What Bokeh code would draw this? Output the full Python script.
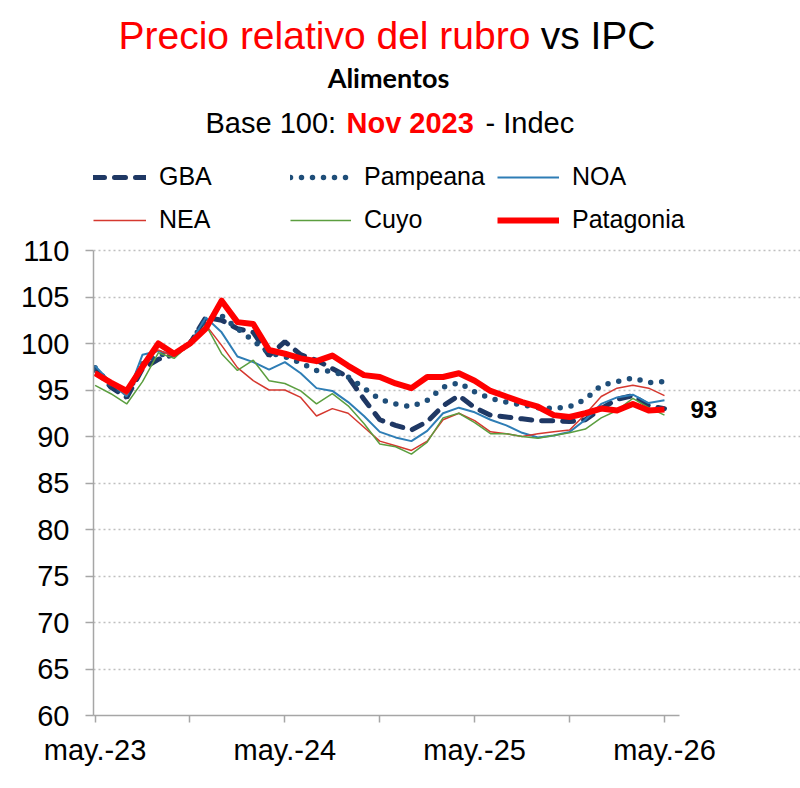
from bokeh.plotting import figure
from bokeh.models import Range1d, FixedTicker, Label, Legend, LegendItem
from bokeh.embed import file_html
from bokeh.resources import INLINE

# Relative price of the food category vs CPI, by region (Nov 2023 = 100), monthly from May 2023
gba = [97.2, 95.3, 94.2, 97.3, 98.3, 98.8, 100.0, 102.8, 102.5, 101.6,
       101.2, 98.7, 100.2, 98.8, 98.2, 97.3, 96.4, 94.0, 91.8, 91.2,
       90.7, 91.6, 93.3, 94.4, 93.1, 92.3, 92.1, 91.9, 91.7, 91.7,
       91.6, 91.8, 93.0, 94.0, 94.4, 93.3, 93.0]
pampeana = [97.4, 95.5, 94.5, 97.8, 98.8, 98.9, 100.0, 102.6, 103.0, 101.6,
            100.3, 99.0, 98.6, 97.9, 97.1, 97.0, 96.4, 95.2, 94.0, 93.5,
            93.2, 93.9, 95.3, 95.8, 94.8, 94.1, 93.7, 93.4, 93.1, 93.0,
            93.2, 94.0, 95.5, 95.9, 96.3, 95.8, 95.9]
noa = [97.6, 95.8, 94.3, 98.8, 99.2, 98.8, 100.0, 102.8, 101.2, 98.6,
       98.0, 97.2, 98.0, 96.8, 95.2, 94.9, 93.7, 92.2, 90.5, 89.9,
       89.5, 90.6, 92.5, 93.1, 92.6, 91.8, 91.2, 90.4, 89.9, 90.1,
       90.5, 91.8, 93.5, 94.2, 94.5, 93.6, 93.9]
nea = [97.0, 95.6, 94.5, 98.0, 99.3, 98.6, 100.0, 102.0, 99.8, 97.4,
       96.0, 95.0, 95.0, 94.2, 92.2, 93.0, 92.5, 91.0, 89.5, 89.0,
       88.5, 89.5, 91.8, 92.5, 91.7, 90.5, 90.3, 90.0, 90.3, 90.5,
       90.7, 92.4, 94.3, 95.2, 95.5, 95.2, 94.4]
cuyo = [95.5, 94.6, 93.5, 95.9, 99.0, 98.4, 100.0, 102.0, 98.9, 97.1,
        98.2, 96.0, 95.7, 94.9, 93.5, 94.6, 93.3, 91.4, 89.2, 88.9,
        88.1, 89.4, 92.0, 92.5, 91.5, 90.3, 90.3, 90.0, 89.8, 90.1,
        90.4, 90.8, 92.0, 92.8, 94.1, 93.1, 92.3]
patagonia = [96.8, 95.8, 94.9, 97.5, 100.0, 98.9, 100.0, 101.6, 104.6, 102.3,
             102.1, 99.3, 98.9, 98.4, 98.1, 98.7, 97.6, 96.6, 96.4, 95.7,
             95.2, 96.4, 96.4, 96.8, 96.0, 94.9, 94.3, 93.7, 93.2, 92.3,
             92.1, 92.5, 93.0, 92.8, 93.5, 92.8, 92.9]

x_tick_labels = ["may.-23", "", "may.-24", "", "may.-25", "", "may.-26"]
y_ticks = [60, 65, 70, 75, 80, 85, 90, 95, 100, 105, 110]

months = list(range(len(patagonia)))
x_ticks = [6 * k for k in range(len(x_tick_labels))]

FONT = "Liberation Sans"
AXIS_GRAY = "#A6A6A6"

# Canvas layout: the plotting frame runs from the axes to the top/right
# edges so that titles, legend and end label can live inside it; the axis
# lines and grid are bounded to the actual value/time span.
W, H = 800, 788
LEFT, BOTTOM = 93, 73            # space for the axes
AXIS_RIGHT, AXIS_TOP = 679, 250  # where the axis lines end
X0, X1 = -0.1, 36.95             # time span covered by the x axis
Y0, Y1 = 60, 110                 # value span covered by the y axis

frame_w = W - LEFT
frame_h = H - BOTTOM
x_scale = (AXIS_RIGHT - LEFT) / (X1 - X0)
y_scale = (H - BOTTOM - AXIS_TOP) / (Y1 - Y0)

p = figure(width=W, height=H, output_backend="svg", toolbar_location=None,
           x_range=Range1d(X0, X0 + frame_w / x_scale),
           y_range=Range1d(Y0, Y0 + frame_h / y_scale),
           min_border_left=LEFT, min_border_right=0,
           min_border_top=0, min_border_bottom=BOTTOM)
p.outline_line_color = None
p.background_fill_color = "white"
p.border_fill_color = "white"

# axes
p.xaxis.ticker = FixedTicker(ticks=x_ticks)
p.xaxis.major_label_overrides = {t: lab for t, lab in zip(x_ticks, x_tick_labels)}
p.xaxis.bounds = (X0, X1)
p.yaxis.ticker = FixedTicker(ticks=y_ticks)
p.yaxis.bounds = (Y0, Y1)
for ax in (p.xaxis, p.yaxis):
    ax.axis_line_color = AXIS_GRAY
    ax.axis_line_width = 1.5
    ax.major_tick_line_color = AXIS_GRAY
    ax.major_tick_line_width = 1.5
    ax.minor_tick_line_color = None
    ax.major_tick_in = 0
    ax.major_label_text_font = FONT
    ax.major_label_text_font_size = "29px"
    ax.major_label_text_color = "black"
p.xaxis.major_tick_out = 7
p.xaxis.major_label_standoff = 11
p.yaxis.major_tick_out = 8
p.yaxis.major_label_standoff = 16

p.xgrid.grid_line_color = None
p.ygrid.grid_line_color = "#BFBFBF"
p.ygrid.grid_line_width = 1.5
p.ygrid.grid_line_dash = "2 3"
p.ygrid.bounds = (X0, X1)

# series
r_gba = p.line(months, gba, line_color="#1F3864", line_width=5,
               line_dash="11 10", line_cap="round")
r_pam = p.line(months, pampeana, line_color="#1F4E79", line_width=5.5,
               line_dash="0 11", line_cap="round")
r_noa = p.line(months, noa, line_color="#2E7DB5", line_width=2)
r_nea = p.line(months, nea, line_color="#D5382F", line_width=1.5)
r_cuyo = p.line(months, cuyo, line_color="#5B9E3F", line_width=1.5)
r_pat = p.line(months, patagonia, line_color="#FF0000", line_width=6,
               line_join="round")

# value of the last Patagonia point
p.add_layout(Label(x=months[-1], y=patagonia[-1], text=f"{patagonia[-1]:.0f}",
                   x_offset=26, text_baseline="middle", text_font=FONT,
                   text_font_style="bold", text_font_size="24px",
                   text_color="black"))

# legend: three columns of two entries (x of the sample start, sample length)
LEG_TOP, LEG_H = 164, 70
legend_cols = [
    (93, 53, [("GBA", r_gba), ("NEA", r_nea)]),
    (290, 61, [("Pampeana", r_pam), ("Cuyo", r_cuyo)]),
    (497, 62, [("NOA", r_noa), ("Patagonia", r_pat)]),
]
for gx, gw, entries in legend_cols:
    lg = Legend(items=[LegendItem(label=lab, renderers=[r]) for lab, r in entries],
                location=(gx - LEFT, frame_h - LEG_TOP - LEG_H),
                orientation="vertical",
                glyph_width=gw, glyph_height=20, label_height=20,
                spacing=14, padding=0, margin=0, label_standoff=13,
                border_line_color=None, background_fill_alpha=0,
                label_text_font=FONT, label_text_font_size="25px",
                label_text_color="black")
    p.add_layout(lg)


def header(x, y, text, **kw):
    """Place a header text at canvas pixel (x, y), y measured from the top."""
    p.add_layout(Label(x=x - LEFT, y=frame_h - y, x_units="screen", y_units="screen",
                       text=text, text_baseline="middle", **kw))


header(118, 35, "Precio relativo del rubro", text_font=FONT,
       text_font_size="39px", text_color="#FF0000")
header(655, 35, "vs IPC", text_align="right", text_font=FONT,
       text_font_size="39px", text_color="black")
header(388, 77, "Alimentos", text_align="center", text_font="Lato",
       text_font_style="bold", text_font_size="27px", text_color="black")
header(205, 122, "Base 100:", text_font=FONT, text_font_size="29px",
       text_color="black")
header(346, 122, "Nov 2023", text_font=FONT, text_font_style="bold",
       text_font_size="29px", text_color="#FF0000")
header(485, 122, "- Indec", text_font=FONT, text_font_size="29px",
       text_color="black")

open("out.html", "w").write(file_html(p, INLINE))
